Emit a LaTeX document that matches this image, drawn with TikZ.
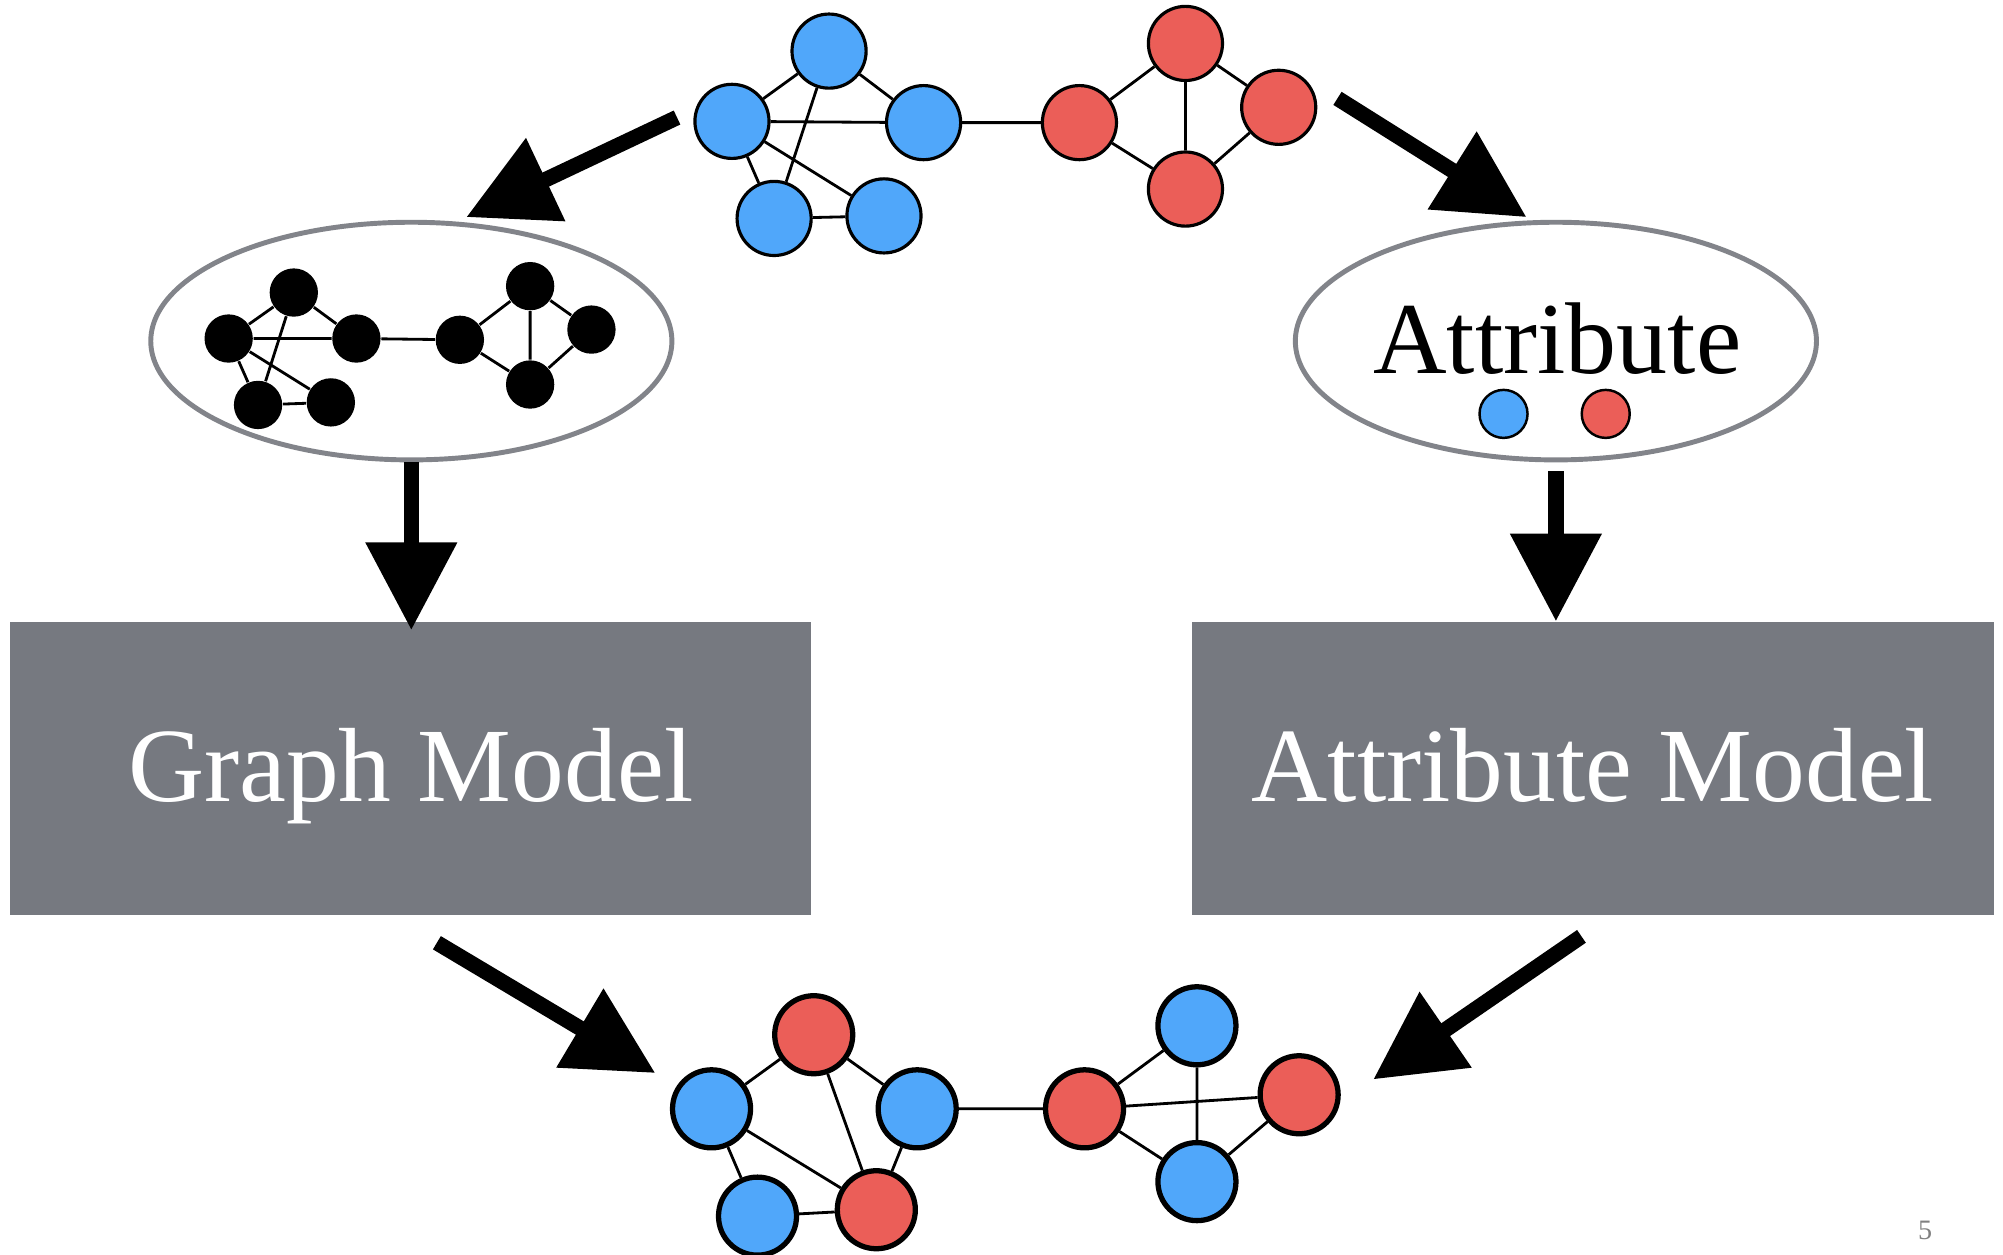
\documentclass[tikz,border=0pt]{standalone}
\usepackage{fontspec}
\setmainfont{Liberation Serif}
\definecolor{nodeblue}{RGB}{80,167,250}
\definecolor{nodered}{RGB}{235,94,88}
\definecolor{boxgray}{RGB}{118,121,128}
\definecolor{ringgray}{RGB}{130,132,138}
\usetikzlibrary{shapes.geometric, arrows.meta}

\begin{document}
\begin{tikzpicture}[x=0.012774cm, y=-0.012774cm,
    vtx/.style={circle, draw=black, line width=0.9pt, minimum size=0.741cm, inner sep=0pt},
    bluenode/.style={vtx, fill=nodeblue},
    rednode/.style={vtx, fill=nodered},
    outnode/.style={line width=1.5pt, minimum size=0.78cm},
    dotnode/.style={circle, fill=black, minimum size=0.483cm, inner sep=0pt},
    attrdot/.style={circle, draw=black, line width=0.7pt, minimum size=0.48cm, inner sep=0pt},
    edge/.style={line width=0.8pt},
    ring/.style={ellipse, draw=ringgray, line width=1.4pt, fill=white,
                 minimum width=5.21cm, minimum height=2.376cm, inner sep=0pt},
    modelbox/.style={fill=boxgray, text=white, font=\fontsize{30}{36}\selectfont,
                     minimum width=8.01cm, minimum height=2.925cm, inner sep=0pt,
                     text height=21pt, text depth=2pt},
    bigarrow/.style={line width=4.4pt, -{Triangle[length=25pt,width=25pt]}}
]
\useasboundingbox (0,0) rectangle (1568,982);

% input graph
\node[bluenode] (b1) at (649,40) {};
\node[bluenode] (b2) at (573,95) {};
\node[bluenode] (b3) at (723,96) {};
\node[bluenode] (b4) at (606,171) {};
\node[bluenode] (b5) at (692,169) {};
\node[rednode] (r1) at (845,96) {};
\node[rednode] (r2) at (928,34) {};
\node[rednode] (r3) at (1001,84) {};
\node[rednode] (r4) at (928,148) {};
\draw[edge] (b1) -- (b2) (b1) -- (b3) (b2) -- (b3) (b2) -- (b4) (b1) -- (b4)
            (b2) -- (b5) (b4) -- (b5) (b3) -- (r1)
            (r1) -- (r2) (r1) -- (r4) (r2) -- (r4) (r2) -- (r3) (r3) -- (r4);

% structure only
\node[ring] (gring) at (322,267) {};
\node[dotnode] (k1) at (230,229) {};
\node[dotnode] (k2) at (179,265) {};
\node[dotnode] (k3) at (279,265) {};
\node[dotnode] (k4) at (202,317) {};
\node[dotnode] (k5) at (259,315) {};
\node[dotnode] (k6) at (360,266) {};
\node[dotnode] (k7) at (415,224) {};
\node[dotnode] (k8) at (463,258) {};
\node[dotnode] (k9) at (415,301) {};
\draw[edge] (k1) -- (k2) (k1) -- (k3) (k2) -- (k3) (k2) -- (k4) (k1) -- (k4)
            (k2) -- (k5) (k4) -- (k5) (k3) -- (k6)
            (k6) -- (k7) (k6) -- (k9) (k7) -- (k9) (k7) -- (k8) (k8) -- (k9);

% attributes only
\node[ring] (aring) at (1218,267) {};
\node[anchor=base, font=\fontsize{29}{34}\selectfont] (attr) at (1219,292) {Attribute};
\node[attrdot, fill=nodeblue] (ablue) at (1177,324) {};
\node[attrdot, fill=nodered] (ared) at (1257,324) {};

% models
\node[modelbox] (gbox) at (321.5,601.5) {Graph Model};
\node[modelbox] (abox) at (1247,601.5) {Attribute Model};

% output graph
\node[rednode, outnode] (c1) at (637,810) {};
\node[bluenode, outnode] (c2) at (557,868) {};
\node[bluenode, outnode] (c3) at (718,868) {};
\node[bluenode, outnode] (c4) at (593,952) {};
\node[rednode, outnode] (c5) at (686,947) {};
\node[rednode, outnode] (c6) at (849,868) {};
\node[bluenode, outnode] (c7) at (937,803) {};
\node[rednode, outnode] (c8) at (1017,857) {};
\node[bluenode, outnode] (c9) at (937,925) {};
\draw[edge] (c1) -- (c2) (c1) -- (c3) (c1) -- (c5) (c2) -- (c5) (c2) -- (c4)
            (c4) -- (c5) (c3) -- (c5) (c3) -- (c6)
            (c6) -- (c7) (c6) -- (c8) (c6) -- (c9) (c7) -- (c9) (c8) -- (c9);

% arrows
\coordinate (a1s) at (530,92);
\coordinate (a1e) at (365,170);
\coordinate (a2s) at (1047,77);
\coordinate (a2e) at (1195,170);
\coordinate (a5s) at (342,738);
\coordinate (a5e) at (513,840);
\coordinate (a6s) at (1238,733);
\coordinate (a6e) at (1075,845);
\draw[bigarrow] (a1s) -- (a1e);
\draw[bigarrow] (a2s) -- (a2e);
\draw[bigarrow] (gring.south) -- ([yshift=-2.5pt]gring.south |- gbox.north);
\draw[bigarrow, shorten <=2.5pt] (aring.south) -- (aring.south |- abox.north);
\draw[bigarrow] (a5s) -- (a5e);
\draw[bigarrow] (a6s) -- (a6e);

% slide number
\node[text=gray, font=\fontsize{8}{10}\selectfont] (pnum) at (1507,963) {5};
\end{tikzpicture}
\end{document}
